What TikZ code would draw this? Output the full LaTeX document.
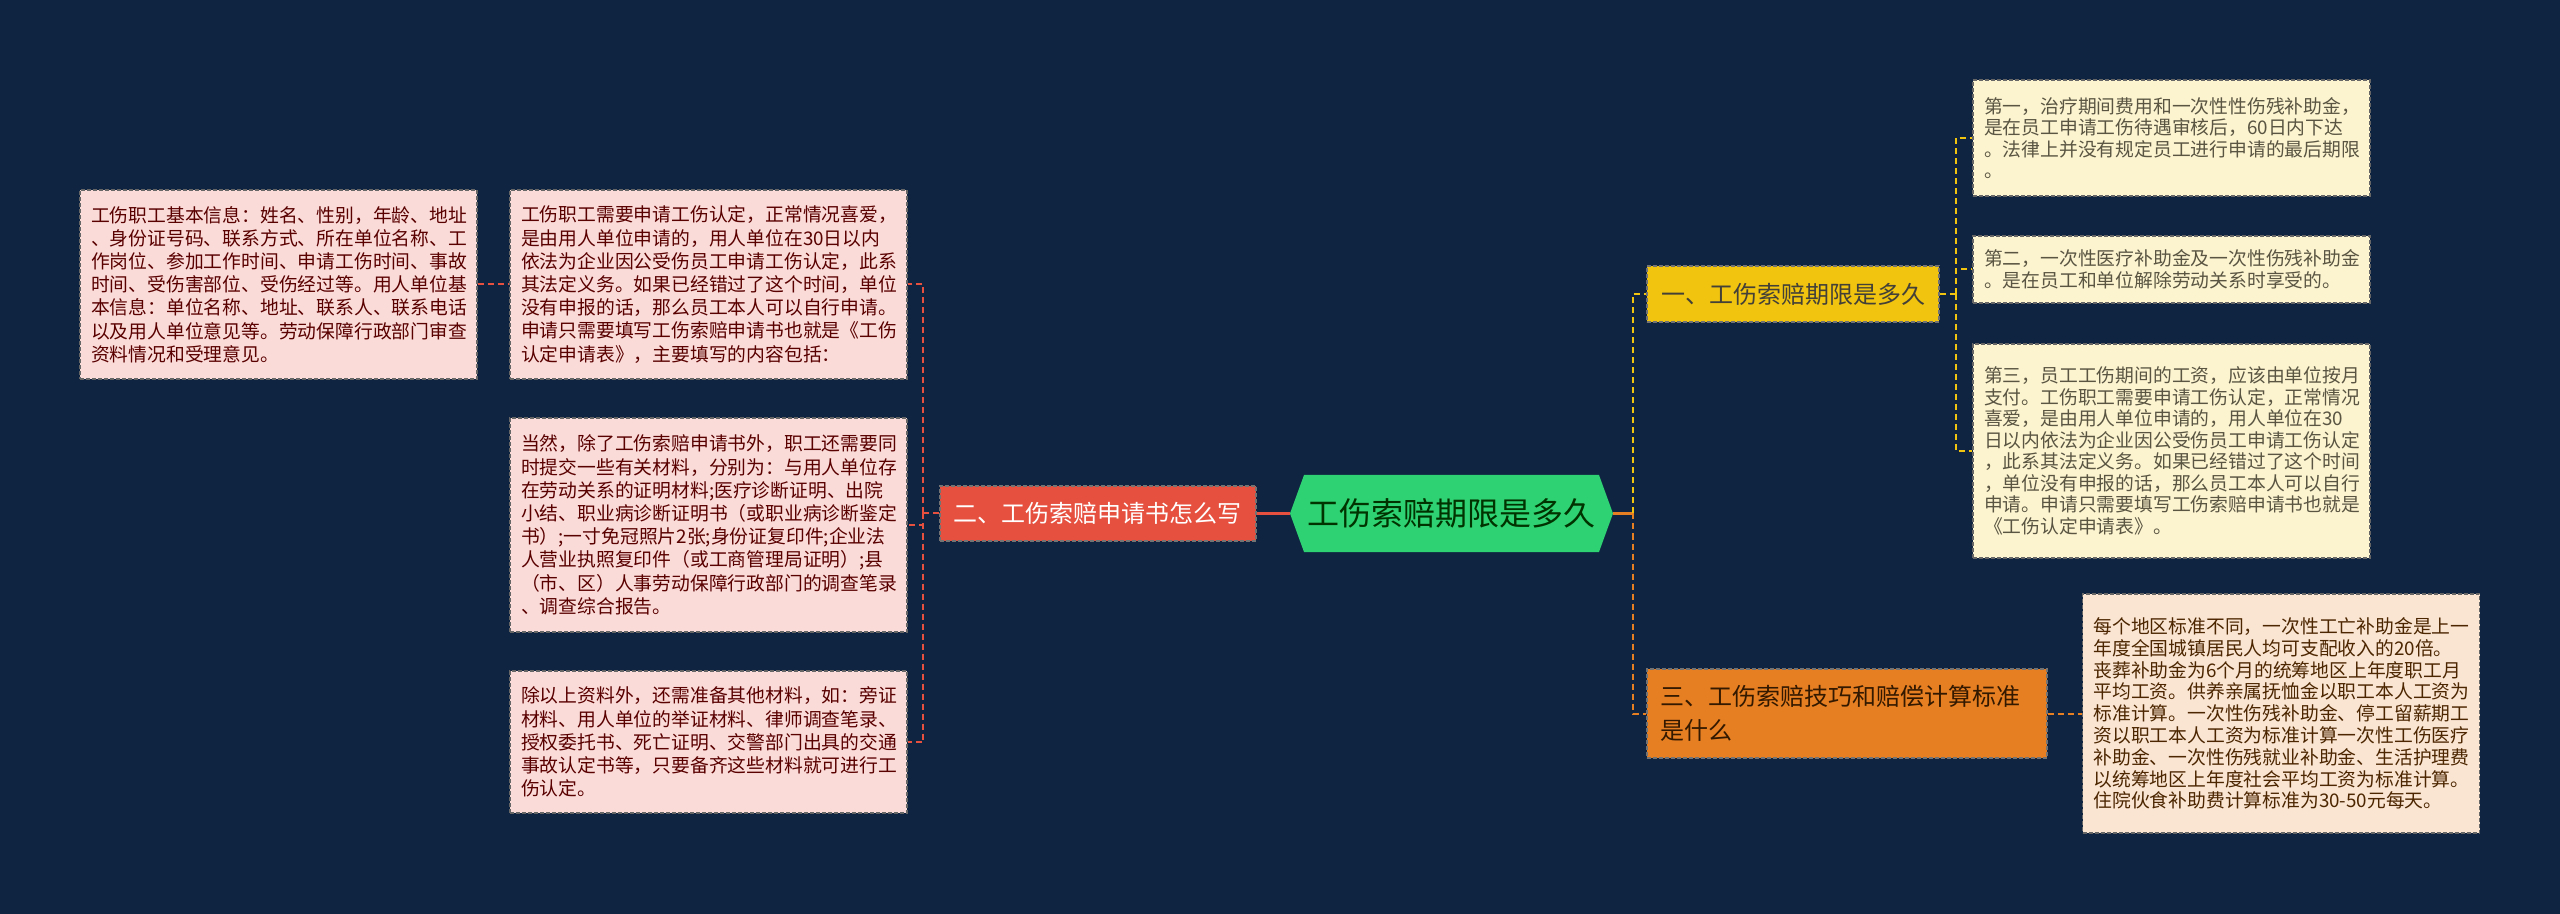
\documentclass[tikz,border=0pt]{standalone}
\usepackage{fontspec}
\newfontfamily\cjk{Noto Sans CJK SC}
\usetikzlibrary{positioning,shapes.symbols}

\definecolor{cbg}{HTML}{0E2440}
\definecolor{cgreen}{HTML}{2FD272}
\definecolor{cred}{HTML}{E5503F}
\definecolor{cyellow}{HTML}{F1C40F}
\definecolor{corange}{HTML}{E67E22}
\definecolor{lpink}{HTML}{FADBD8}
\definecolor{lyellow}{HTML}{FCF3CF}
\definecolor{lorange}{HTML}{FAE5D3}

\begin{document}
\begin{tikzpicture}[
  x=0.5pt,y=-0.5pt,
  leaf/.style={draw=black!60,dash pattern=on 2pt off 1pt,line width=0.6pt,align=left,
    text width=187.5pt,inner xsep=5.5pt,inner ysep=0pt},
  lleaf/.style={leaf,fill=lpink,text=red!35!black,font=\cjk\fontsize{9.4}{11.6}\selectfont},
  yleaf/.style={leaf,fill=lyellow,text=yellow!25!black,font=\cjk\fontsize{9.4}{10.75}\selectfont},
  oleaf/.style={leaf,fill=lorange,text=orange!30!black,font=\cjk\fontsize{9.4}{10.9}\selectfont},
  br/.style={draw=black!55,dash pattern=on 2pt off 1pt,line width=0.6pt,
    font=\cjk\fontsize{12}{15}\selectfont,inner sep=0pt},
  e1/.style={cyellow,line width=1pt,dash pattern=on 3pt off 2pt},
  e2/.style={cred,line width=1pt,dash pattern=on 3pt off 2pt},
  e3/.style={corange,line width=1pt,dash pattern=on 3pt off 2pt}
]
\fill[cbg] (0,0) rectangle (2560,914);
\useasboundingbox (0,0) rectangle (2560,914);

% ---- centre ----
\node[shape=signal,signal to=west and east,signal pointer angle=140,fill=cgreen,
  minimum width=161.5pt,minimum height=38.5pt,inner sep=0pt,text=green!20!black,
  font=\cjk\fontsize{16}{18}\selectfont] (center) at (1451.5,513.5) {工伤索赔期限是多久};

% ---- branch 2 : left side ----
\node[br,fill=cred,text=white,minimum width=158pt,minimum height=27.5pt,left=16.5pt of center] (b2)
  {二、工伤索赔申请书怎么写};

\node[lleaf,minimum height=94.5pt] (l1) at (708.5,284.5)
  {工伤职工需要申请工伤认定，正常情况喜爱，\\
   是由用人单位申请的，用人单位在30日以内\\
   依法为企业因公受伤员工申请工伤认定，此系\\
   其法定义务。如果已经错过了这个时间，单位\\
   没有申报的话，那么员工本人可以自行申请。\\
   申请只需要填写工伤索赔申请书也就是《工伤\\
   认定申请表》，主要填写的内容包括：};
\node[lleaf,minimum height=94.5pt] (lf) at (278.5,284.5)
  {工伤职工基本信息：姓名、性别，年龄、地址\\
   、身份证号码、联系方式、所在单位名称、工\\
   作岗位、参加工作时间、申请工伤时间、事故\\
   时间、受伤害部位、受伤经过等。用人单位基\\
   本信息：单位名称、地址、联系人、联系电话\\
   以及用人单位意见等。劳动保障行政部门审查\\
   资料情况和受理意见。};
\node[lleaf,minimum height=107pt] (l2) at (708.5,525)
  {当然，除了工伤索赔申请书外，职工还需要同\\
   时提交一些有关材料，分别为：与用人单位存\\
   在劳动关系的证明材料;医疗诊断证明、出院\\
   小结、职业病诊断证明书（或职业病诊断鉴定\\
   书）;一寸免冠照片2张;身份证复印件;企业法\\
   人营业执照复印件（或工商管理局证明）;县\\
   （市、区）人事劳动保障行政部门的调查笔录\\
   、调查综合报告。};
\node[lleaf,minimum height=71pt] (l3) at (708.5,742)
  {除以上资料外，还需准备其他材料，如：旁证\\
   材料、用人单位的举证材料、律师调查笔录、\\
   授权委托书、死亡证明、交警部门出具的交通\\
   事故认定书等，只要备齐这些材料就可进行工\\
   伤认定。};

% ---- branch 1 and 3 : right side ----
\node[br,fill=cyellow,text=yellow!15!black,minimum width=146pt,minimum height=28pt] (b1) at (1793,294)
  {一、工伤索赔期限是多久};
\node[br,fill=corange,text=orange!20!black,minimum height=44.5pt,text width=187pt,
  inner xsep=6.5pt,align=left,font=\cjk\fontsize{12}{17}\selectfont] (b3) at (1847,713.5)
  {三、工伤索赔技巧和赔偿计算标准\\是什么};

\node[yleaf,minimum height=58pt] (r1) at (2171.5,138)
  {第一，治疗期间费用和一次性性伤残补助金，\\
   是在员工申请工伤待遇审核后，60日内下达\\
   。法律上并没有规定员工进行申请的最后期限\\
   。};
\node[yleaf,minimum height=33.5pt] (r2) at (2171.5,269.5)
  {第二，一次性医疗补助金及一次性伤残补助金\\
   。是在员工和单位解除劳动关系时享受的。};
\node[yleaf,minimum height=107pt] (r3) at (2171.5,451)
  {第三，员工工伤期间的工资，应该由单位按月\\
   支付。工伤职工需要申请工伤认定，正常情况\\
   喜爱，是由用人单位申请的，用人单位在30\\
   日以内依法为企业因公受伤员工申请工伤认定\\
   ，此系其法定义务。如果已经错过了这个时间\\
   ，单位没有申报的话，那么员工本人可以自行\\
   申请。申请只需要填写工伤索赔申请书也就是\\
   《工伤认定申请表》。};
\node[oleaf,minimum height=119.5pt] (r4) at (2281,713.5)
  {每个地区标准不同，一次性工亡补助金是上一\\
   年度全国城镇居民人均可支配收入的20倍。\\
   丧葬补助金为6个月的统筹地区上年度职工月\\
   平均工资。供养亲属抚恤金以职工本人工资为\\
   标准计算。一次性伤残补助金、停工留薪期工\\
   资以职工本人工资为标准计算一次性工伤医疗\\
   补助金、一次性伤残就业补助金、生活护理费\\
   以统筹地区上年度社会平均工资为标准计算。\\
   住院伙食补助费计算标准为30-50元每天。};

% wires
\draw[cred,line width=1.5pt] (center.west) -- (b2.east);
\draw[e2] (b2.west) -- ++(-8pt,0) coordinate (j2);
\draw[e2] (j2) |- (l1.east);
\draw[e2] (j2) |- (l2.east);
\draw[e2] (j2) |- (l3.east);
\draw[e2] (lf.east) -- (l1.west);

\draw[corange,line width=1.5pt] (center.east) -- ++(10pt,0) coordinate (j1);
\draw[e1] (j1) |- (b1.west);
\draw[e3] (j1) |- (b3.west);
\draw[e1] (b1.east) -- ++(8pt,0) coordinate (jr);
\draw[e1] (jr) |- (r1.west);
\draw[e1] (jr) |- (r2.west);
\draw[e1] (jr) |- (r3.west);
\draw[e3] (b3.east) -- (r4.west);
\end{tikzpicture}
\end{document}
